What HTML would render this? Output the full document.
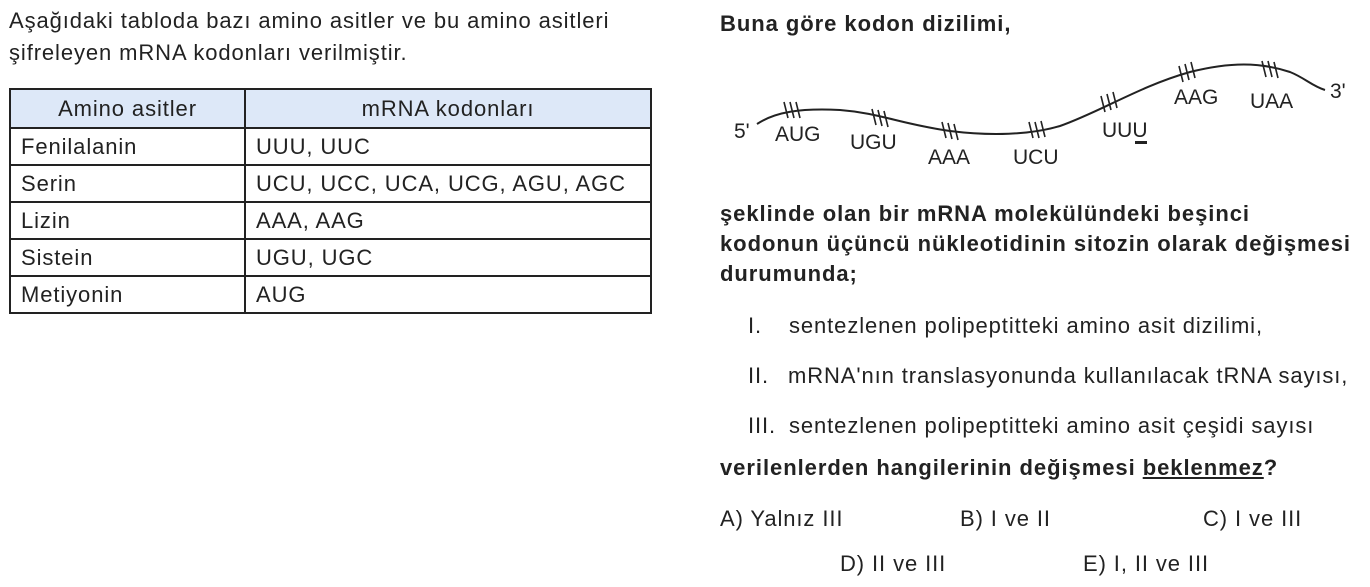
<!DOCTYPE html>
<html><head><meta charset="utf-8"><style>
body{margin:0;width:1370px;height:587px;background:#fff;font-family:"Liberation Sans",sans-serif;color:#222;position:relative;overflow:hidden}
.t{position:absolute;white-space:nowrap;font-size:22px;letter-spacing:0.9px}
.b{font-weight:bold;letter-spacing:0.95px}
table{position:absolute;left:9px;top:88px;border-collapse:collapse;font-size:22px;letter-spacing:0.9px;table-layout:fixed}
td{border:2px solid #222;height:35px;padding:0 10px;white-space:nowrap}
th{border:2px solid #222;height:35px;font-weight:normal;background:#dde8f8}
</style></head><body>
<div class="t" style="left:9px;top:8px">Aşağıdaki tabloda bazı amino asitler ve bu amino asitleri</div>
<div class="t" style="left:9px;top:40px">şifreleyen mRNA kodonları verilmiştir.</div>
<table>
<col style="width:235px"><col style="width:406px">
<tr><th>Amino asitler</th><th>mRNA kodonları</th></tr>
<tr><td>Fenilalanin</td><td>UUU, UUC</td></tr>
<tr><td>Serin</td><td>UCU, UCC, UCA, UCG, AGU, AGC</td></tr>
<tr><td>Lizin</td><td>AAA, AAG</td></tr>
<tr><td>Sistein</td><td>UGU, UGC</td></tr>
<tr><td>Metiyonin</td><td>AUG</td></tr>
</table>
<div class="t b" style="left:720px;top:11px">Buna göre kodon dizilimi,</div>
<svg style="position:absolute;left:0;top:0" width="1370" height="587">
<path d="M757,124 C775,112 800,108 840,110 C880,113 900,124 950,131 C990,136 1030,135 1060,126 C1100,112 1140,86 1190,72 C1230,62 1260,62 1290,72 C1305,78 1312,86 1325,90" fill="none" stroke="#222" stroke-width="2"/>
<g stroke="#222" stroke-width="1.6">
<path d="M784,102l4,16M790,102l4,16M796,102l4,16"/>
<path d="M872,109l4,16M878,110l4,16M884,111l4,16"/>
<path d="M942,122l4,16M948,123l4,16M954,124l4,16"/>
<path d="M1029,122l4,16M1035,122l4,16M1041,121l4,16"/>
<path d="M1101,96l4,16M1107,94l4,16M1113,92l4,16"/>
<path d="M1179,66l4,16M1185,64l4,16M1191,62l4,16"/>
<path d="M1262,61l4,16M1268,61l4,16M1274,62l4,16"/>
</g>
<g font-family="Liberation Sans,sans-serif" font-size="21" fill="#222">
<text x="734" y="138">5'</text>
<text x="775" y="141">AUG</text>
<text x="850" y="149">UGU</text>
<text x="928" y="164">AAA</text>
<text x="1013" y="164">UCU</text>
<text x="1102" y="137">UUU</text>
<text x="1174" y="104">AAG</text>
<text x="1250" y="108">UAA</text>
<text x="1330" y="98">3'</text>
</g>
<rect x="1135" y="141" width="12" height="3" fill="#222"/>
</svg>
<div class="t b" style="left:720px;top:201px">şeklinde olan bir mRNA molekülündeki beşinci</div>
<div class="t b" style="left:720px;top:231px">kodonun üçüncü nükleotidinin sitozin olarak değişmesi</div>
<div class="t b" style="left:720px;top:261px">durumunda;</div>
<div class="t" style="left:748px;top:313px">I.</div><div class="t" style="left:789px;top:313px">sentezlenen polipeptitteki amino asit dizilimi,</div>
<div class="t" style="left:748px;top:363px">II.</div><div class="t" style="left:788px;top:363px">mRNA'nın translasyonunda kullanılacak tRNA sayısı,</div>
<div class="t" style="left:748px;top:413px">III.</div><div class="t" style="left:789px;top:413px">sentezlenen polipeptitteki amino asit çeşidi sayısı</div>
<div class="t b" style="left:720px;top:455px">verilenlerden hangilerinin değişmesi <u>beklenmez</u>?</div>
<div class="t" style="left:720px;top:506px">A) Yalnız III</div>
<div class="t" style="left:960px;top:506px">B) I ve II</div>
<div class="t" style="left:1203px;top:506px">C) I ve III</div>
<div class="t" style="left:840px;top:551px">D) II ve III</div>
<div class="t" style="left:1083px;top:551px">E) I, II ve III</div>
</body></html>
